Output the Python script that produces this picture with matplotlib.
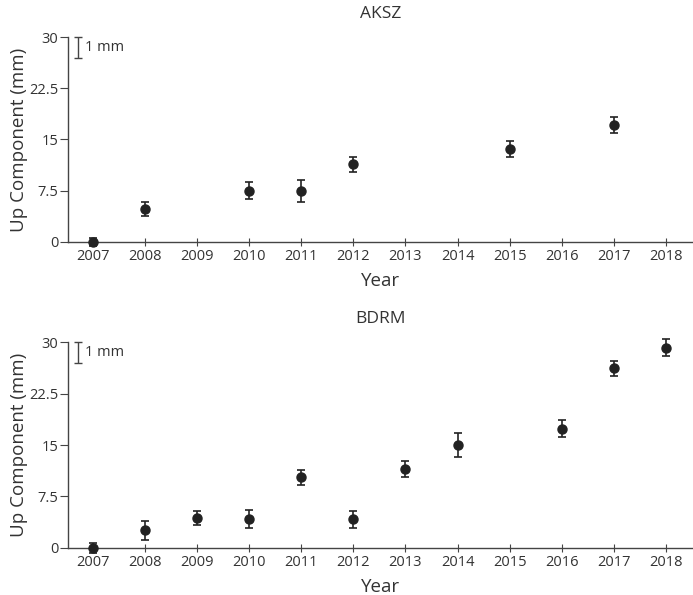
import matplotlib
matplotlib.use("Agg")
import matplotlib.pyplot as plt

plt.rcParams['font.family'] = ['Open Sans', 'DejaVu Sans']

# AKSZ station
aksz_years = [2007, 2008, 2010, 2011, 2012, 2015, 2017]
aksz_up = [0.0, 4.8, 7.5, 7.5, 11.4, 13.6, 17.1]
aksz_err = [0.65, 1.05, 1.25, 1.6, 1.1, 1.2, 1.2]

# BDRM station
bdrm_years = [2007, 2008, 2009, 2010, 2011, 2012, 2013, 2014, 2016, 2017, 2018]
bdrm_up = [0.0, 2.6, 4.35, 4.25, 10.3, 4.15, 11.5, 15.0, 17.4, 26.15, 29.15]
bdrm_err = [0.7, 1.4, 1.05, 1.3, 1.1, 1.2, 1.2, 1.8, 1.2, 1.15, 1.25]

year_ticks = list(range(2007, 2019))
up_ticks = [0, 7.5, 15, 22.5, 30]
up_ticklabels = ['0', '7.5', '15', '22.5', '30']

dark = '#222222'
axis_col = '#444444'

fig = plt.figure(figsize=(6.93, 5.95), dpi=100)
ax1 = fig.add_axes([0.0981, 0.5933, 0.9019, 0.3445])
ax2 = fig.add_axes([0.0981, 0.0790, 0.9019, 0.3462])


def draw_panel(ax, years, up, err, title):
    ax.errorbar(years, up, yerr=err, fmt='o', color=dark, ms=6.5,
                capsize=3, elinewidth=1.2, capthick=1.2, clip_on=False, zorder=3)
    ax.set_xlim(2006.52, 2018.52)
    ax.set_ylim(0, 30)
    ax.set_xticks(year_ticks)
    ax.set_yticks(up_ticks)
    ax.set_yticklabels(up_ticklabels)
    for s in ['top', 'right']:
        ax.spines[s].set_visible(False)
    for s in ['left', 'bottom']:
        ax.spines[s].set_color(axis_col)
        ax.spines[s].set_linewidth(1.0)
    ax.tick_params(axis='x', direction='inout', length=6, color=axis_col,
                   labelsize=10.5, labelcolor='#333333', pad=2)
    ax.tick_params(axis='y', direction='out', length=6, color=axis_col,
                   labelsize=10.5, labelcolor='#333333', pad=1)
    ax.set_xlabel('Year', fontsize=13.5, color='#333333', labelpad=6)
    ax.set_ylabel('Up Component (mm)', fontsize=13.5, color='#333333', labelpad=1)
    ax.set_title(title, fontsize=12.5, color='#333333', pad=14)
    # scale bar for error bars
    ax.errorbar([2006.71], [28.5], yerr=[1.5], fmt='none', color=axis_col,
                capsize=3, elinewidth=1.0, capthick=1.0, clip_on=False)
    ax.text(2006.85, 28.5, '1 mm', fontsize=10.5, color='#333333',
            va='center', ha='left')


draw_panel(ax1, aksz_years, aksz_up, aksz_err, 'AKSZ')
draw_panel(ax2, bdrm_years, bdrm_up, bdrm_err, 'BDRM')

fig.savefig('out.png', dpi=100)
